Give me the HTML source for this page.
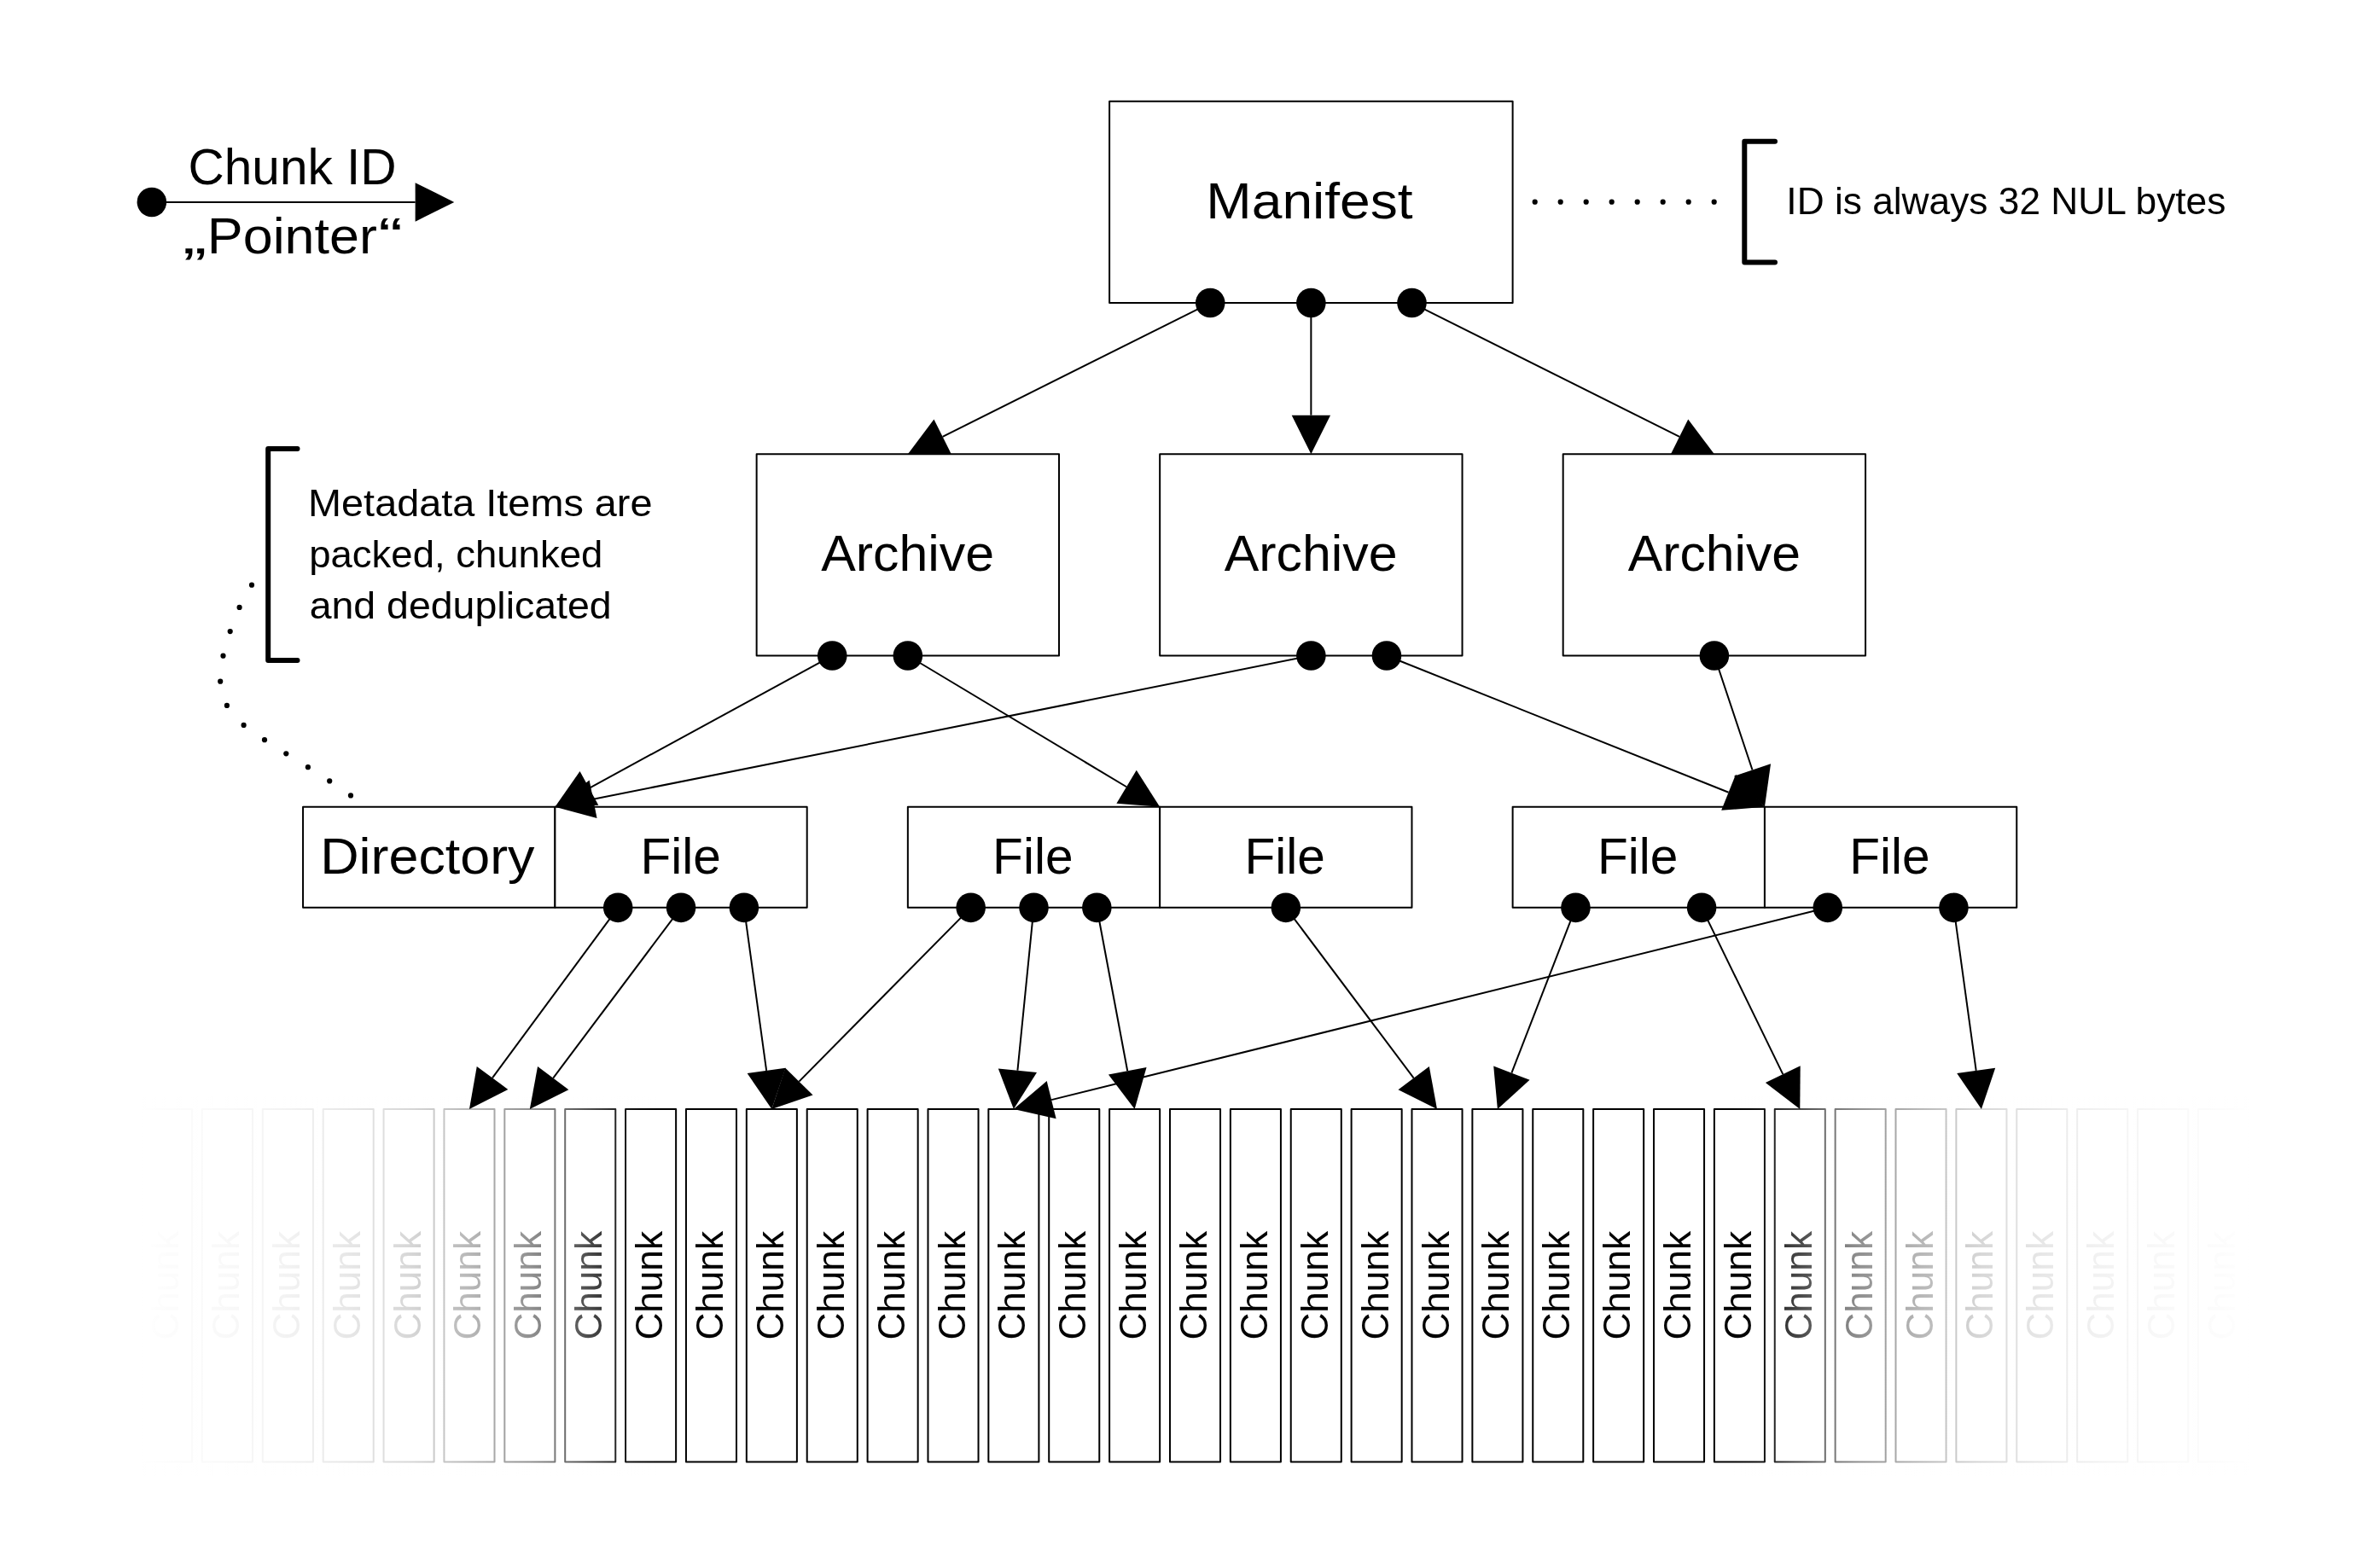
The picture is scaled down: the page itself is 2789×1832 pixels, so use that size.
<!DOCTYPE html>
<html lang="en"><head><meta charset="utf-8"><title>Object graph</title>
<style>html,body{margin:0;padding:0;background:#fff}svg{display:block;will-change:transform}text{font-family:"Liberation Sans",sans-serif;fill:#000}</style></head><body>
<svg width="2789" height="1832" viewBox="0 0 2789 1832">
<defs><linearGradient id="fl" gradientUnits="userSpaceOnUse" x1="130" y1="0" x2="770" y2="0">
<stop offset="0.0000" stop-color="#fff" stop-opacity="1.000"/>
<stop offset="0.0547" stop-color="#fff" stop-opacity="1.000"/>
<stop offset="0.1025" stop-color="#fff" stop-opacity="0.990"/>
<stop offset="0.2131" stop-color="#fff" stop-opacity="0.975"/>
<stop offset="0.3239" stop-color="#fff" stop-opacity="0.950"/>
<stop offset="0.4347" stop-color="#fff" stop-opacity="0.905"/>
<stop offset="0.5453" stop-color="#fff" stop-opacity="0.845"/>
<stop offset="0.6561" stop-color="#fff" stop-opacity="0.720"/>
<stop offset="0.7669" stop-color="#fff" stop-opacity="0.570"/>
<stop offset="0.8305" stop-color="#fff" stop-opacity="0.430"/>
<stop offset="0.8775" stop-color="#fff" stop-opacity="0.290"/>
<stop offset="0.9234" stop-color="#fff" stop-opacity="0.150"/>
<stop offset="0.9422" stop-color="#fff" stop-opacity="0.080"/>
<stop offset="0.9688" stop-color="#fff" stop-opacity="0.030"/>
<stop offset="1.0000" stop-color="#fff" stop-opacity="0.000"/>
</linearGradient>
<linearGradient id="fr" gradientUnits="userSpaceOnUse" x1="2031.0" y1="0" x2="2671.0" y2="0">
<stop offset="0.0000" stop-color="#fff" stop-opacity="0.000"/>
<stop offset="0.0312" stop-color="#fff" stop-opacity="0.030"/>
<stop offset="0.0578" stop-color="#fff" stop-opacity="0.080"/>
<stop offset="0.0766" stop-color="#fff" stop-opacity="0.150"/>
<stop offset="0.1225" stop-color="#fff" stop-opacity="0.290"/>
<stop offset="0.1695" stop-color="#fff" stop-opacity="0.430"/>
<stop offset="0.2331" stop-color="#fff" stop-opacity="0.570"/>
<stop offset="0.3439" stop-color="#fff" stop-opacity="0.720"/>
<stop offset="0.4547" stop-color="#fff" stop-opacity="0.845"/>
<stop offset="0.5653" stop-color="#fff" stop-opacity="0.905"/>
<stop offset="0.6761" stop-color="#fff" stop-opacity="0.950"/>
<stop offset="0.7869" stop-color="#fff" stop-opacity="0.975"/>
<stop offset="0.8975" stop-color="#fff" stop-opacity="0.990"/>
<stop offset="0.9453" stop-color="#fff" stop-opacity="1.000"/>
<stop offset="1.0000" stop-color="#fff" stop-opacity="1.000"/>
</linearGradient></defs>
<g id="chunks" fill="#fff" stroke="#000" stroke-linejoin="round" stroke-width="2.0">
<rect x="166.05" y="1300.1" width="59.06" height="413.45"/>
<rect x="236.93" y="1300.1" width="59.06" height="413.45"/>
<rect x="307.81" y="1300.1" width="59.06" height="413.45"/>
<rect x="378.69" y="1300.1" width="59.06" height="413.45"/>
<rect x="449.56" y="1300.1" width="59.06" height="413.45"/>
<rect x="520.44" y="1300.1" width="59.06" height="413.45"/>
<rect x="591.32" y="1300.1" width="59.06" height="413.45"/>
<rect x="662.2" y="1300.1" width="59.06" height="413.45"/>
<rect x="733.08" y="1300.1" width="59.06" height="413.45"/>
<rect x="803.95" y="1300.1" width="59.06" height="413.45"/>
<rect x="874.83" y="1300.1" width="59.06" height="413.45"/>
<rect x="945.71" y="1300.1" width="59.06" height="413.45"/>
<rect x="1016.59" y="1300.1" width="59.06" height="413.45"/>
<rect x="1087.47" y="1300.1" width="59.06" height="413.45"/>
<rect x="1158.34" y="1300.1" width="59.06" height="413.45"/>
<rect x="1229.22" y="1300.1" width="59.06" height="413.45"/>
<rect x="1300.1" y="1300.1" width="59.06" height="413.45"/>
<rect x="1370.98" y="1300.1" width="59.06" height="413.45"/>
<rect x="1441.86" y="1300.1" width="59.06" height="413.45"/>
<rect x="1512.73" y="1300.1" width="59.06" height="413.45"/>
<rect x="1583.61" y="1300.1" width="59.06" height="413.45"/>
<rect x="1654.49" y="1300.1" width="59.06" height="413.45"/>
<rect x="1725.37" y="1300.1" width="59.06" height="413.45"/>
<rect x="1796.25" y="1300.1" width="59.06" height="413.45"/>
<rect x="1867.12" y="1300.1" width="59.06" height="413.45"/>
<rect x="1938.0" y="1300.1" width="59.06" height="413.45"/>
<rect x="2008.88" y="1300.1" width="59.06" height="413.45"/>
<rect x="2079.76" y="1300.1" width="59.06" height="413.45"/>
<rect x="2150.64" y="1300.1" width="59.06" height="413.45"/>
<rect x="2221.51" y="1300.1" width="59.06" height="413.45"/>
<rect x="2292.39" y="1300.1" width="59.06" height="413.45"/>
<rect x="2363.27" y="1300.1" width="59.06" height="413.45"/>
<rect x="2434.15" y="1300.1" width="59.06" height="413.45"/>
<rect x="2505.03" y="1300.1" width="59.06" height="413.45"/>
<rect x="2575.9" y="1300.1" width="59.06" height="413.45"/>
</g>
<g id="chunklabels" font-size="44px">
<text transform="translate(209.08 1506.83) rotate(-90)" text-anchor="middle" textLength="127.58" lengthAdjust="spacingAndGlyphs">Chunk</text>
<text transform="translate(279.96 1506.83) rotate(-90)" text-anchor="middle" textLength="127.58" lengthAdjust="spacingAndGlyphs">Chunk</text>
<text transform="translate(350.84 1506.83) rotate(-90)" text-anchor="middle" textLength="127.58" lengthAdjust="spacingAndGlyphs">Chunk</text>
<text transform="translate(421.72 1506.83) rotate(-90)" text-anchor="middle" textLength="127.58" lengthAdjust="spacingAndGlyphs">Chunk</text>
<text transform="translate(492.60 1506.83) rotate(-90)" text-anchor="middle" textLength="127.58" lengthAdjust="spacingAndGlyphs">Chunk</text>
<text transform="translate(563.47 1506.83) rotate(-90)" text-anchor="middle" textLength="127.58" lengthAdjust="spacingAndGlyphs">Chunk</text>
<text transform="translate(634.35 1506.83) rotate(-90)" text-anchor="middle" textLength="127.58" lengthAdjust="spacingAndGlyphs">Chunk</text>
<text transform="translate(705.23 1506.83) rotate(-90)" text-anchor="middle" textLength="127.58" lengthAdjust="spacingAndGlyphs">Chunk</text>
<text transform="translate(776.11 1506.83) rotate(-90)" text-anchor="middle" textLength="127.58" lengthAdjust="spacingAndGlyphs">Chunk</text>
<text transform="translate(846.99 1506.83) rotate(-90)" text-anchor="middle" textLength="127.58" lengthAdjust="spacingAndGlyphs">Chunk</text>
<text transform="translate(917.86 1506.83) rotate(-90)" text-anchor="middle" textLength="127.58" lengthAdjust="spacingAndGlyphs">Chunk</text>
<text transform="translate(988.74 1506.83) rotate(-90)" text-anchor="middle" textLength="127.58" lengthAdjust="spacingAndGlyphs">Chunk</text>
<text transform="translate(1059.62 1506.83) rotate(-90)" text-anchor="middle" textLength="127.58" lengthAdjust="spacingAndGlyphs">Chunk</text>
<text transform="translate(1130.50 1506.83) rotate(-90)" text-anchor="middle" textLength="127.58" lengthAdjust="spacingAndGlyphs">Chunk</text>
<text transform="translate(1201.38 1506.83) rotate(-90)" text-anchor="middle" textLength="127.58" lengthAdjust="spacingAndGlyphs">Chunk</text>
<text transform="translate(1272.25 1506.83) rotate(-90)" text-anchor="middle" textLength="127.58" lengthAdjust="spacingAndGlyphs">Chunk</text>
<text transform="translate(1343.13 1506.83) rotate(-90)" text-anchor="middle" textLength="127.58" lengthAdjust="spacingAndGlyphs">Chunk</text>
<text transform="translate(1414.01 1506.83) rotate(-90)" text-anchor="middle" textLength="127.58" lengthAdjust="spacingAndGlyphs">Chunk</text>
<text transform="translate(1484.89 1506.83) rotate(-90)" text-anchor="middle" textLength="127.58" lengthAdjust="spacingAndGlyphs">Chunk</text>
<text transform="translate(1555.77 1506.83) rotate(-90)" text-anchor="middle" textLength="127.58" lengthAdjust="spacingAndGlyphs">Chunk</text>
<text transform="translate(1626.64 1506.83) rotate(-90)" text-anchor="middle" textLength="127.58" lengthAdjust="spacingAndGlyphs">Chunk</text>
<text transform="translate(1697.52 1506.83) rotate(-90)" text-anchor="middle" textLength="127.58" lengthAdjust="spacingAndGlyphs">Chunk</text>
<text transform="translate(1768.40 1506.83) rotate(-90)" text-anchor="middle" textLength="127.58" lengthAdjust="spacingAndGlyphs">Chunk</text>
<text transform="translate(1839.28 1506.83) rotate(-90)" text-anchor="middle" textLength="127.58" lengthAdjust="spacingAndGlyphs">Chunk</text>
<text transform="translate(1910.16 1506.83) rotate(-90)" text-anchor="middle" textLength="127.58" lengthAdjust="spacingAndGlyphs">Chunk</text>
<text transform="translate(1981.03 1506.83) rotate(-90)" text-anchor="middle" textLength="127.58" lengthAdjust="spacingAndGlyphs">Chunk</text>
<text transform="translate(2051.91 1506.83) rotate(-90)" text-anchor="middle" textLength="127.58" lengthAdjust="spacingAndGlyphs">Chunk</text>
<text transform="translate(2122.79 1506.83) rotate(-90)" text-anchor="middle" textLength="127.58" lengthAdjust="spacingAndGlyphs">Chunk</text>
<text transform="translate(2193.67 1506.83) rotate(-90)" text-anchor="middle" textLength="127.58" lengthAdjust="spacingAndGlyphs">Chunk</text>
<text transform="translate(2264.55 1506.83) rotate(-90)" text-anchor="middle" textLength="127.58" lengthAdjust="spacingAndGlyphs">Chunk</text>
<text transform="translate(2335.42 1506.83) rotate(-90)" text-anchor="middle" textLength="127.58" lengthAdjust="spacingAndGlyphs">Chunk</text>
<text transform="translate(2406.30 1506.83) rotate(-90)" text-anchor="middle" textLength="127.58" lengthAdjust="spacingAndGlyphs">Chunk</text>
<text transform="translate(2477.18 1506.83) rotate(-90)" text-anchor="middle" textLength="127.58" lengthAdjust="spacingAndGlyphs">Chunk</text>
<text transform="translate(2548.06 1506.83) rotate(-90)" text-anchor="middle" textLength="127.58" lengthAdjust="spacingAndGlyphs">Chunk</text>
<text transform="translate(2618.94 1506.83) rotate(-90)" text-anchor="middle" textLength="127.58" lengthAdjust="spacingAndGlyphs">Chunk</text>
</g>
<rect x="60" y="1285" width="710" height="445" fill="url(#fl)"/>
<rect x="2031.0" y="1285" width="725" height="445" fill="url(#fr)"/>
<g id="boxes" fill="#fff" stroke="#000" stroke-linejoin="round" stroke-width="2.0">
<rect x="1300.1" y="118.8" width="472.52" height="236.26"/>
<rect x="886.64" y="532.25" width="354.39" height="236.26"/>
<rect x="1359.16" y="532.25" width="354.39" height="236.26"/>
<rect x="1831.68" y="532.25" width="354.39" height="236.26"/>
<rect x="355.06" y="945.71" width="295.32" height="118.13"/>
<rect x="650.38" y="945.71" width="295.32" height="118.13"/>
<rect x="1063.84" y="945.71" width="295.32" height="118.13"/>
<rect x="1359.16" y="945.71" width="295.32" height="118.13"/>
<rect x="1772.62" y="945.71" width="295.32" height="118.13"/>
<rect x="2067.95" y="945.71" width="295.32" height="118.13"/>
</g>
<g id="arrows" stroke="#000" stroke-width="2.0" fill="#000">
<line x1="177.86" y1="236.93" x2="486.65" y2="236.93"/>
<polygon stroke="none" points="532.25,236.93 486.65,259.63 486.65,214.23"/>
<line x1="1418.23" y1="355.06" x2="1104.63" y2="511.86"/>
<polygon stroke="none" points="1063.84,532.25 1094.47,491.55 1114.78,532.16"/>
<line x1="1536.36" y1="355.06" x2="1536.36" y2="486.65"/>
<polygon stroke="none" points="1536.36,532.25 1513.66,486.65 1559.06,486.65"/>
<line x1="1654.49" y1="355.06" x2="1968.09" y2="511.86"/>
<polygon stroke="none" points="2008.88,532.25 1957.94,532.16 1978.25,491.55"/>
<line x1="975.24" y1="768.51" x2="690.41" y2="923.87"/>
<polygon stroke="none" points="650.38,945.71 679.54,903.95 701.28,943.80"/>
<line x1="1063.84" y1="768.51" x2="1320.06" y2="922.25"/>
<polygon stroke="none" points="1359.16,945.71 1308.38,941.71 1331.74,902.78"/>
<line x1="1536.36" y1="768.51" x2="695.09" y2="936.77"/>
<polygon stroke="none" points="650.38,945.71 690.64,914.51 699.55,959.03"/>
<line x1="1624.96" y1="768.51" x2="2025.61" y2="928.77"/>
<polygon stroke="none" points="2067.95,945.71 2017.18,949.85 2034.04,907.70"/>
<line x1="2008.88" y1="768.51" x2="2053.53" y2="902.45"/>
<polygon stroke="none" points="2067.95,945.71 2031.99,909.63 2075.06,895.27"/>
<line x1="724.22" y1="1063.84" x2="577.04" y2="1263.40"/>
<polygon stroke="none" points="549.97,1300.10 558.77,1249.93 595.31,1276.88"/>
<line x1="798.05" y1="1063.84" x2="648.21" y2="1263.62"/>
<polygon stroke="none" points="620.85,1300.10 630.05,1250.00 666.37,1277.24"/>
<line x1="871.88" y1="1063.84" x2="898.15" y2="1254.92"/>
<polygon stroke="none" points="904.36,1300.10 875.66,1258.02 920.64,1251.83"/>
<line x1="1137.67" y1="1063.84" x2="936.40" y2="1267.65"/>
<polygon stroke="none" points="904.36,1300.10 920.25,1251.70 952.55,1283.60"/>
<line x1="1211.50" y1="1063.84" x2="1192.42" y2="1254.73"/>
<polygon stroke="none" points="1187.88,1300.10 1169.83,1252.47 1215.00,1256.98"/>
<line x1="1285.33" y1="1063.84" x2="1321.23" y2="1255.28"/>
<polygon stroke="none" points="1329.63,1300.10 1298.92,1259.46 1343.54,1251.10"/>
<line x1="1506.83" y1="1063.84" x2="1656.66" y2="1263.62"/>
<polygon stroke="none" points="1684.02,1300.10 1638.50,1277.24 1674.82,1250.00"/>
<line x1="1846.45" y1="1063.84" x2="1771.38" y2="1257.58"/>
<polygon stroke="none" points="1754.90,1300.10 1750.21,1249.38 1792.54,1265.78"/>
<line x1="1994.11" y1="1063.84" x2="2089.31" y2="1259.11"/>
<polygon stroke="none" points="2109.29,1300.10 2068.90,1269.06 2109.71,1249.16"/>
<line x1="2141.78" y1="1063.84" x2="1232.14" y2="1289.14"/>
<polygon stroke="none" points="1187.88,1300.10 1226.69,1267.10 1237.60,1311.17"/>
<line x1="2289.44" y1="1063.84" x2="2315.71" y2="1254.92"/>
<polygon stroke="none" points="2321.92,1300.10 2293.22,1258.02 2338.20,1251.83"/>
</g>
<g id="dots" fill="#000">
<circle cx="177.86" cy="236.93" r="17.3"/>
<circle cx="1418.23" cy="355.06" r="17.3"/>
<circle cx="1536.36" cy="355.06" r="17.3"/>
<circle cx="1654.49" cy="355.06" r="17.3"/>
<circle cx="975.24" cy="768.51" r="17.3"/>
<circle cx="1063.84" cy="768.51" r="17.3"/>
<circle cx="1536.36" cy="768.51" r="17.3"/>
<circle cx="1624.96" cy="768.51" r="17.3"/>
<circle cx="2008.88" cy="768.51" r="17.3"/>
<circle cx="724.22" cy="1063.84" r="17.3"/>
<circle cx="798.05" cy="1063.84" r="17.3"/>
<circle cx="871.88" cy="1063.84" r="17.3"/>
<circle cx="1137.67" cy="1063.84" r="17.3"/>
<circle cx="1211.5" cy="1063.84" r="17.3"/>
<circle cx="1285.33" cy="1063.84" r="17.3"/>
<circle cx="1506.83" cy="1063.84" r="17.3"/>
<circle cx="1846.45" cy="1063.84" r="17.3"/>
<circle cx="1994.11" cy="1063.84" r="17.3"/>
<circle cx="2141.78" cy="1063.84" r="17.3"/>
<circle cx="2289.44" cy="1063.84" r="17.3"/>
</g>
<g id="brackets" fill="none" stroke="#000" stroke-width="6" stroke-linecap="round" stroke-linejoin="round">
<polyline points="2080,165.7 2044.3,165.7 2044.3,307.6 2080,307.6"/>
<polyline points="348.5,526 314.2,526 314.2,774.1 348.5,774.1"/>
</g>
<g id="dotted" fill="#000">
<circle cx="1798.7" cy="236.7" r="3.1"/>
<circle cx="1828.7" cy="236.7" r="3.1"/>
<circle cx="1858.7" cy="236.7" r="3.1"/>
<circle cx="1888.7" cy="236.7" r="3.1"/>
<circle cx="1918.7" cy="236.7" r="3.1"/>
<circle cx="1948.7" cy="236.7" r="3.1"/>
<circle cx="1978.7" cy="236.7" r="3.1"/>
<circle cx="2008.7" cy="236.7" r="3.1"/>
<circle cx="295.0" cy="685.7" r="3.1"/>
<circle cx="280.6" cy="711.9" r="3.1"/>
<circle cx="269.7" cy="740.1" r="3.1"/>
<circle cx="261.5" cy="768.7" r="3.1"/>
<circle cx="258.2" cy="798.7" r="3.1"/>
<circle cx="265.9" cy="826.9" r="3.1"/>
<circle cx="285.6" cy="849.9" r="3.1"/>
<circle cx="310.0" cy="867.2" r="3.1"/>
<circle cx="335.3" cy="883.3" r="3.1"/>
<circle cx="360.9" cy="899.2" r="3.1"/>
<circle cx="386.2" cy="915.4" r="3.1"/>
<circle cx="411.0" cy="932.4" r="3.1"/>
</g>
<g id="labels">
<text id="t1" x="220.41" y="216.30" font-size="58.7px" textLength="244.23" lengthAdjust="spacingAndGlyphs">Chunk ID</text>
<text id="t2" y="296.50" font-size="58.7px"><tspan id="t2a" x="214.11" textLength="28.28" lengthAdjust="spacingAndGlyphs">„</tspan><tspan id="t2b" x="242.85" textLength="198.97" lengthAdjust="spacingAndGlyphs">Pointer</tspan><tspan id="t2c" x="443.37" textLength="28.67" lengthAdjust="spacingAndGlyphs">“</tspan></text>
<text id="t3" x="1413.34" y="256.30" font-size="58.7px" textLength="242.35" lengthAdjust="spacingAndGlyphs">Manifest</text>
<text id="t4" x="2093.33" y="251.00" font-size="43.5px" textLength="514.99" lengthAdjust="spacingAndGlyphs">ID is always 32 NUL bytes</text>
<text id="t5" x="361.09" y="604.50" font-size="43.5px" textLength="403.41" lengthAdjust="spacingAndGlyphs">Metadata Items are</text>
<text id="t6" x="362.26" y="664.80" font-size="43.5px" textLength="343.98" lengthAdjust="spacingAndGlyphs">packed, chunked</text>
<text id="t7" x="362.66" y="725.10" font-size="43.5px" textLength="353.97" lengthAdjust="spacingAndGlyphs">and deduplicated</text>
<text id="t8" x="962.20" y="669.40" font-size="58.7px" textLength="202.90" lengthAdjust="spacingAndGlyphs">Archive</text>
<text id="t9" x="1434.70" y="669.40" font-size="58.7px" textLength="202.90" lengthAdjust="spacingAndGlyphs">Archive</text>
<text id="t10" x="1907.70" y="669.40" font-size="58.7px" textLength="202.40" lengthAdjust="spacingAndGlyphs">Archive</text>
<text id="t11" x="375.25" y="1024.10" font-size="58.7px" textLength="251.22" lengthAdjust="spacingAndGlyphs">Directory</text>
<text id="t12" x="750.41" y="1024.10" font-size="58.7px" textLength="94.36" lengthAdjust="spacingAndGlyphs">File</text>
<text id="t13" x="1163.11" y="1024.10" font-size="58.7px" textLength="94.36" lengthAdjust="spacingAndGlyphs">File</text>
<text id="t14" x="1458.44" y="1024.10" font-size="58.7px" textLength="94.36" lengthAdjust="spacingAndGlyphs">File</text>
<text id="t15" x="1871.89" y="1024.10" font-size="58.7px" textLength="94.36" lengthAdjust="spacingAndGlyphs">File</text>
<text id="t16" x="2167.22" y="1024.10" font-size="58.7px" textLength="94.36" lengthAdjust="spacingAndGlyphs">File</text>
</g>
</svg></body></html>
